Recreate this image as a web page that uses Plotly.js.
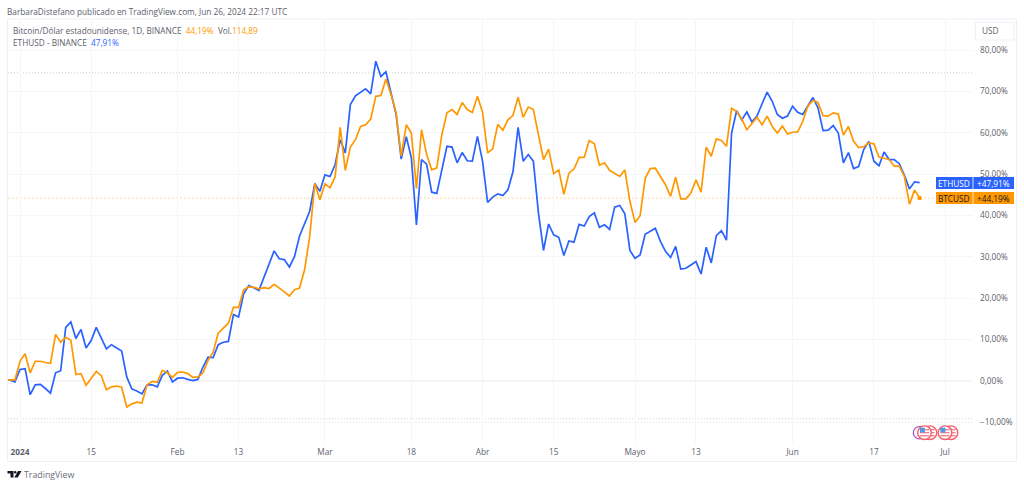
<!DOCTYPE html>
<html><head><meta charset="utf-8">
<script src="https://cdn.plot.ly/plotly-3.0.1.min.js"></script>
<style>html,body{margin:0;padding:0;background:#fff}#c{width:1024px;height:487px}</style>
</head><body><div id="c"></div>
<script>
// Daily % change, from 2023-12-29 to 2024-06-26
const startDay = '2023-12-29';
const ethusd = [0,0.2,-0.3,
2.7,2.9,-3.4,-1.0,-0.9,-1.9,-3.0,1.9,2.4,12.9,14.2,10.2,12.4,7.9,9.7,12.9,10.3,7.7,8.7,8.0,7.2,0.9,-2.0,-2.5,-3.2,-1.0,-1.0,-1.5,1.3,2.3,-0.3,
0.6,0.7,0.3,0,0.3,3.3,5.7,5.6,8.7,9.3,9.5,16,15.4,21,23,22.5,21.8,25,28,31.4,29.5,29.3,27.5,30,35,37.8,41,47.7,45.8,
49.8,49.4,52.3,58.3,55.1,66.8,68.9,69.8,70.6,69.4,77.3,73.6,74.7,69.6,64.4,53.6,59,53.9,37.7,53.5,52.4,45.6,45.3,51,56.7,56.5,52.7,55.2,53.2,53.1,59.1,
53.1,43.1,44.4,45.2,44.8,46.2,50.6,61.3,53.1,54.7,53.1,40.6,31.5,37.9,35.3,34.7,30.3,33.8,33.5,37.8,37.4,39.7,40.6,37.1,37.7,36.6,42,42.4,40.4,31.5,
29.6,30.4,35.4,36.1,36.9,33.7,31.3,29.8,32.5,27,27.2,28,28.8,25.8,32.3,28.5,35.1,36.3,34,59.9,65.3,63.1,65,62.6,64,67,69.8,67.6,64.4,63.5,64,
66.4,64.9,64.4,66.4,68.5,66,60.5,60.6,61.7,59.9,52.7,55.2,51.3,51.8,55.9,57.9,53.1,52,55.3,53.5,53.5,52.5,49.7,46.4,48.1,47.91];
const btcusd = [0,0.2,0.2,
4.7,6.5,1.9,4.7,4.7,4.4,4.2,11.2,9.3,10.5,9.8,1.5,1.7,-1.1,0.6,2.2,1.2,-2.2,-1.5,-1.3,-1.6,-6.4,-5.6,-5.2,-5.4,-1,-0.2,-0.4,2.5,1.9,0.8,
2,2.1,1.7,0.8,0.9,1.9,4.9,6.9,11.5,12.7,13.9,17.8,17.7,22,22.7,22.6,22.2,22.5,22.3,23.3,22.5,21.5,20.5,22,22.4,26.9,34.9,47.7,43.8,
47.6,46.7,49.3,61.3,50.9,56.5,58.3,61.5,61.9,63.3,68.8,69,73,69.2,64.8,54.4,61.9,59.9,46.5,60.7,54.8,51,51.5,59.5,64.8,65.6,64.4,67.3,65.6,64.9,68.8,
65,55.1,56.1,62,60.6,63.1,64.2,68.6,63.7,66.2,65.6,59.5,53.5,56,50.1,51,45.1,50.2,51.2,54,54,58.1,57.3,52.1,52.7,50.9,50.2,49.4,51,43.4,
38.3,39.9,48.9,51.3,51.4,49.3,47.4,44.6,49.2,44,44,45.4,48.6,45.6,56.5,54.3,58.5,58.1,56.7,65.9,65.1,63.3,60.7,62.2,63.7,61.9,64,61.5,59.9,61.6,59.7,
60.1,60.2,62.7,66.4,67.8,67.3,64.1,64,64.8,64.5,59.4,61.5,57.9,56.4,56.6,57.5,57.3,54.1,53.8,53.5,51.9,51.9,49.4,42.7,46.1,44.19];
const xTickDates = ['2024-01-01','2024-01-15','2024-02-01','2024-02-13','2024-03-01','2024-03-18','2024-04-01','2024-04-15','2024-05-01','2024-05-13','2024-06-01','2024-06-17','2024-07-01'];
const xTickText = ['<b>2024</b>','15','Feb','13','Mar','18','Abr','15','Mayo','13','Jun','17','Jul'];
const yTicks = [-10,0,10,20,30,40,50,60,70,80];
const yTickText = ['\u221210,00%','0,00%','10,00%','20,00%','30,00%','40,00%','50,00%','60,00%','70,00%','80,00%'];
const highLine = 74.5, lowLine = -9.2, lastBtc = 44.19;

const base = new Date(startDay + 'T00:00:00Z').getTime();
const dates = ethusd.map((_, i) => new Date(base + i * 864e5).toISOString().slice(0, 10));

const W = 1024, H = 487, mL = 8, mR = 51, mT = 19, mB = 44;
const pw = W - mL - mR, ph = H - mT - mB;
const px = x => (x - mL) / pw, py = y => 1 - (y - mT) / ph;
const FONT = '"Open Sans", "Noto Sans", sans-serif';
const BLUE = '#2962ff', ORANGE = '#ff9800', TXT = '#5d606b';
const FS = 8.25;

function pbox(x0, y0, x1, y1, o) {
  return Object.assign({type:'rect', xref:'paper', yref:'paper', x0:px(x0), x1:px(x1), y0:py(y0), y1:py(y1), layer:'above'}, o);
}
function ptext(x, y, text, o) {
  return Object.assign({xref:'paper', yref:'paper', x:px(x), y:py(y), text, showarrow:false, xanchor:'left', yanchor:'middle',
    font:{family:FONT, size:FS, color:TXT}, borderpad:0}, o);
}
function circ(cx, cy, r, o) {
  return Object.assign({type:'circle', xref:'paper', yref:'paper', x0:px(cx-r), x1:px(cx+r), y0:py(cy-r), y1:py(cy+r), layer:'above'}, o);
}
function flag(cx, cy) {
  const out = [circ(cx, cy, 6.8, {fillcolor:'#fff', line:{color:'#f5606a', width:1.4}})];
  [-3, 0, 3].forEach(d => out.push(pbox(cx-4.6, cy+d-0.6, cx+4.6, cy+d+0.6, {fillcolor:'#f5737c', line:{width:0}})));
  out.push(pbox(cx-4.6, cy-5, cx+0.4, cy-0.2, {fillcolor:'#4f9ae8', line:{width:0}}));
  return out;
}

const shapes = [
  {type:'line', xref:'paper', yref:'y', x0:0, x1:1, y0:highLine, y1:highLine, line:{color:'#c4c6cd', width:0.8, dash:'1px,2px'}, layer:'below'},
  {type:'line', xref:'paper', yref:'y', x0:0, x1:1, y0:lowLine, y1:lowLine, line:{color:'#c4c6cd', width:0.8, dash:'1px,2px'}, layer:'below'},
  {type:'line', xref:'paper', yref:'y', x0:0, x1:1, y0:0, y1:0, line:{color:'#d6d8de', width:1.2}, layer:'below'},
  {type:'line', xref:'paper', yref:'y', x0:0, x1:1, y0:lastBtc, y1:lastBtc, line:{color:'#ffcf8a', width:0.8, dash:'2px,2px'}, layer:'below'},
  pbox(7.5, 19, 1016.5, 461.5, {line:{color:'#eef0f6', width:1}, fillcolor:'rgba(0,0,0,0)', layer:'below'}),
  pbox(975.5, 22.5, 1014, 40, {line:{color:'#eef0f6', width:1}, fillcolor:'#fff'}),
  pbox(936, 177, 972.6, 189, {fillcolor:BLUE, line:{width:0}}),
  pbox(973.4, 177, 1014, 189, {fillcolor:BLUE, line:{width:0}}),
  pbox(936, 192, 972.6, 204, {fillcolor:ORANGE, line:{width:0}}),
  pbox(973.4, 192, 1014, 204, {fillcolor:ORANGE, line:{width:0}}),
  circ(919.5, 432.7, 6.2, {fillcolor:'#fff', line:{color:'#ab47bc', width:1.2}}),
  ...flag(930, 432.7), ...flag(924.5, 432.7),
  ...flag(951, 432.7), ...flag(945, 432.7),
  // TradingView mark
  {type:'path', xref:'paper', yref:'paper', layer:'above', fillcolor:'#131722', line:{width:0},
   path:`M${px(7.5)},${py(471)} L${px(13.5)},${py(471)} L${px(13.5)},${py(477.5)} L${px(10.5)},${py(477.5)} L${px(10.5)},${py(473.5)} L${px(7.5)},${py(473.5)} Z`},
  circ(15.2, 472.3, 1.2, {fillcolor:'#131722', line:{width:0}}),
  {type:'path', xref:'paper', yref:'paper', layer:'above', fillcolor:'#131722', line:{width:0},
   path:`M${px(18)},${py(471)} L${px(21.5)},${py(471)} L${px(17.8)},${py(477.5)} L${px(14.3)},${py(477.5)} Z`}
];

const annotations = [
  ptext(6, 11, 'BarbaraDistefano publicado en TradingView.com, Jun 26, 2024 22:17 UTC'),
  ptext(12, 30.5, `Bitcoin/Dólar estadounidense, 1D, BINANCE  <span style="color:${ORANGE}">44,19%</span>  Vol.<span style="color:${ORANGE}">114,89</span>`),
  ptext(12, 42.5, `ETHUSD - BINANCE  <span style="color:${BLUE}">47,91%</span>`),
  ptext(981, 31, 'USD'),
  ptext(954.3, 183, 'ETHUSD', {xanchor:'center', font:{family:FONT, size:FS, color:'#fff'}}),
  ptext(1011, 183, '+47,91%', {xanchor:'right', font:{family:FONT, size:FS, color:'#fff'}}),
  ptext(954.3, 198, 'BTCUSD', {xanchor:'center', font:{family:FONT, size:FS, color:'#131722'}}),
  ptext(1011, 198, '+44,19%', {xanchor:'right', font:{family:FONT, size:FS, color:'#131722'}}),
  ptext(23, 475, 'TradingView', {font:{family:FONT, size:8.8, color:'#6a6d78'}})
];

Plotly.newPlot('c', [
  {x:dates, y:ethusd, type:'scatter', mode:'lines', name:'ETHUSD', line:{color:BLUE, width:1.7}, hoverinfo:'skip'},
  {x:dates, y:btcusd, type:'scatter', mode:'lines', name:'BTCUSD', line:{color:ORANGE, width:1.7}, hoverinfo:'skip'},
  {x:[dates[dates.length-1]], y:[btcusd[btcusd.length-1]], type:'scatter', mode:'markers', marker:{color:ORANGE, size:4.5}, showlegend:false, hoverinfo:'skip'}
], {
  width:W, height:H, showlegend:false,
  paper_bgcolor:'#fff', plot_bgcolor:'#fff',
  margin:{l:mL, r:mR, t:mT, b:mB, pad:0},
  font:{family:FONT, size:FS, color:TXT},
  xaxis:{type:'date', range:['2023-12-29 15:20','2024-07-06 12:00'], tickmode:'array', tickvals:xTickDates, ticktext:xTickText,
    showgrid:true, gridcolor:'#f5f6f9', gridwidth:1, zeroline:false, showline:false, ticks:'', tickangle:0, ticklabelstandoff:3,
    tickfont:{family:FONT, size:FS, color:TXT}},
  yaxis:{side:'right', range:[-15.08,87.5], tickmode:'array', tickvals:yTicks, ticktext:yTickText,
    showgrid:true, gridcolor:'#f5f6f9', gridwidth:1, zeroline:false, showline:false, ticks:'', ticklabelstandoff:6,
    tickfont:{family:FONT, size:FS, color:TXT}},
  shapes, annotations
}, {displayModeBar:false, staticPlot:true});
</script></body></html>
